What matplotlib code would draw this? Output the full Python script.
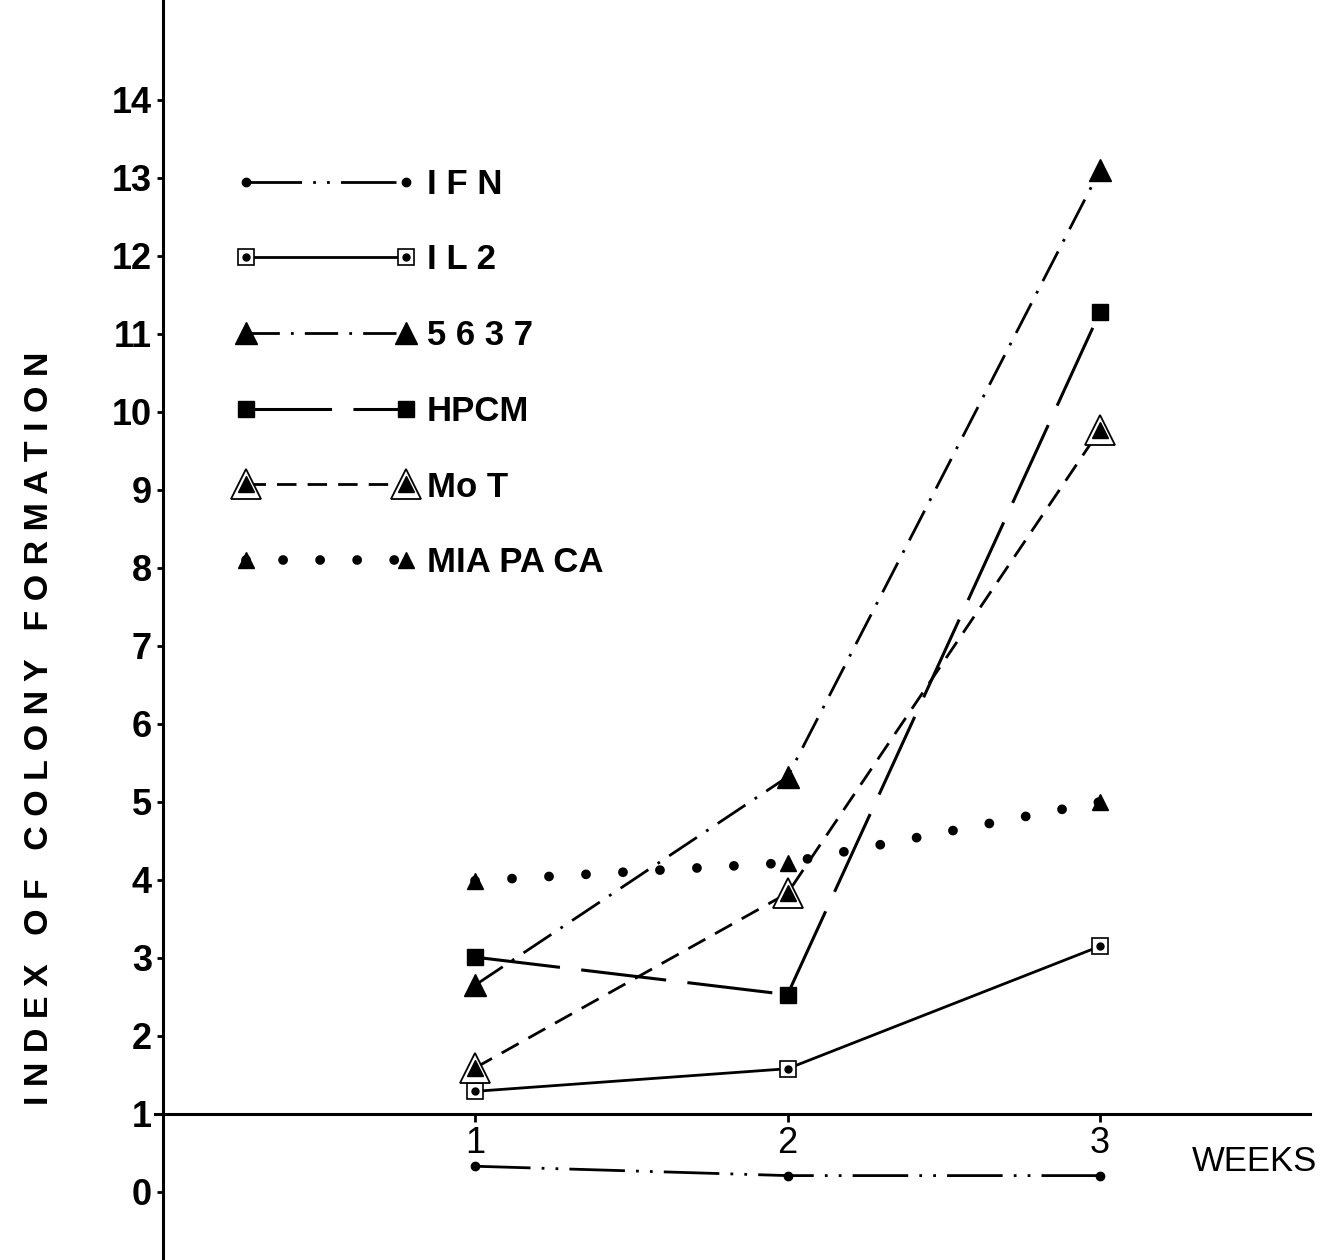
import matplotlib
matplotlib.use('Agg')
import matplotlib.pyplot as plt
from matplotlib.legend_handler import HandlerTuple

plt.rcParams['font.family'] = ['Liberation Sans', 'DejaVu Sans']

# values
weeks = [1, 2, 3]
ifn = [0.33, 0.21, 0.21]
il2 = [1.29, 1.58, 3.15]
c5637 = [2.65, 5.32, 13.1]
hpcm = [3.01, 2.53, 11.28]
mot = [1.59, 3.83, 9.77]
miapaca = [3.99, 4.22, 5.0]
labels = ['I F N', 'I L 2', '5 6 3 7', 'HPCM', 'Mo T', 'MIA PA CA']
yticks = list(range(0, 15))

fig = plt.figure(figsize=(13.35, 12.6), dpi=100)
ax = fig.add_axes([0, 0, 1, 1])
ax.set_xlim(-0.52, 3.752)
ax.set_ylim(-0.872, 15.28)

# axes: y axis at week 0, x axis drawn at index 1
for s in ['top', 'right']:
    ax.spines[s].set_visible(False)
ax.spines['left'].set_position(('data', 0))
ax.spines['bottom'].set_position(('data', 1))
ax.spines['bottom'].set_bounds(-0.024, 3.672)
ax.spines['left'].set_linewidth(2.2)
ax.spines['bottom'].set_linewidth(2.2)

ax.set_yticks(yticks, labels=[str(t) for t in yticks], fontweight='bold')
ax.tick_params(axis='y', direction='out', length=4.5, width=2, pad=3, labelsize=26)
ax.set_xticks(weeks)
ax.tick_params(axis='x', direction='out', length=6, width=2, pad=3, labelsize=26)

h_ifn, = ax.plot(weeks, ifn, color='k', lw=2, dashes=(20, 4, 1, 4, 1, 4),
                 marker='o', ms=6)
h_il2, = ax.plot(weeks, il2, color='k', lw=2, marker='s', ms=11,
                 mfc='white', mec='k', mew=1.2)
h_il2dot, = ax.plot(weeks, il2, ls='none', marker='o', ms=5, color='k')
h_5637, = ax.plot(weeks, c5637, color='k', lw=2, dashes=(12, 4, 1, 4),
                  marker='^', ms=16)
h_hpcm, = ax.plot(weeks, hpcm, color='k', lw=2.2, dashes=(28, 7),
                  marker='s', ms=12)
h_mot, = ax.plot(weeks, mot, color='k', lw=2, dashes=(7, 4), marker='^',
                 ms=22, mfc='white', mec='k', mew=1.3)
h_motin, = ax.plot(weeks, mot, ls='none', marker='^', ms=11, color='k')
h_mia, = ax.plot(weeks, miapaca, color='k', lw=7, dashes=(0.01, 3.8),
                 dash_capstyle='round', marker='^', ms=11)

handles = [h_ifn, (h_il2, h_il2dot), h_5637, h_hpcm, (h_mot, h_motin), h_mia]
ax.legend(handles, labels, handler_map={tuple: HandlerTuple(ndivide=1)},
          loc='upper left', bbox_to_anchor=(0.235, 13.13),
          bbox_transform=ax.transData, frameon=False, numpoints=2,
          handlelength=5.2, handletextpad=0.3, labelspacing=1.23,
          borderpad=0, borderaxespad=0,
          prop={'weight': 'bold', 'size': 25})

ax.text(3.496, 0.385, 'WEEKS', fontsize=25, ha='center', va='center')
fig.text(40 / 1335, 1 - 728 / 1260,
         'I N D E X   O F   C O L O N Y   F O R M A T I O N',
         rotation=90, fontsize=24.5, fontweight='bold', ha='center', va='center')

fig.savefig('out.png', dpi=100)
